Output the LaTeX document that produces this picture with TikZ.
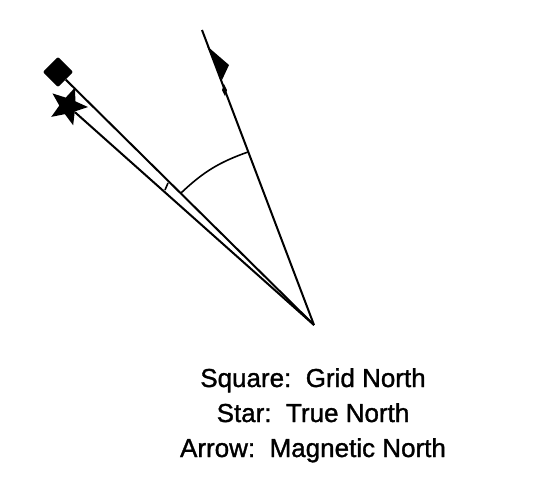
\documentclass[tikz,border=0pt]{standalone}
\usepackage{fontspec}
\setmainfont[BoldFont={Liberation Sans},BoldFeatures={FakeBold=1.2}]{Liberation Sans}
\usetikzlibrary{positioning, shapes.geometric}
\tikzset{
  ray/.style={draw, line width=1.5pt},
  thinray/.style={draw, line width=1.2pt},
  gridmark/.style={diamond, fill, inner sep=0pt, minimum width=23pt, minimum height=23pt, rounded corners=1.5pt},
  truemark/.style={star, star points=5, star point ratio=2.3, fill, inner sep=0pt, minimum size=30pt, shape border rotate=-21},
  caption/.style={font=\fontsize{19.5}{22}\selectfont\bfseries, inner sep=0pt}
}
\begin{document}
\begin{tikzpicture}[x=0.75pt,y=-0.75pt]
\useasboundingbox (0,0) rectangle (544,487);
% the three north marks and the point they all start from
\node[gridmark](grid) at (58,72){};
\node[truemark](true) at (68,106){};
\coordinate (apex) at (314,325);
\coordinate (magtop) at (202,30);
% the lines
\draw[ray] (grid) -- (apex);
\draw[ray] (true) -- (apex);
\draw[ray] (magtop) -- (apex);
% arrow on the magnetic line
\fill (207,46) -- (229,65) -- (222,80) -- cycle;
\fill (224,84) -- (227,90) -- (225,96) -- (222,90) -- cycle;
% angle arc and the small tick
\coordinate (arcleft) at (181,193);
\coordinate (arcright) at (248,152);
\draw[thinray] (arcleft) to[bend left=12] (arcright);
\coordinate (tickup) at (168,183);
\coordinate (tickdown) at (165,190);
\draw[thinray] (tickup) -- (tickdown);
% legend
\node[caption, anchor=base](square) at (313,387){Square:\ \ Grid North};
\node[caption, below=26.25pt of square.base, anchor=base](star) {Star:\ \ True North};
\node[caption, below=26.25pt of star.base, anchor=base](arrow) {Arrow:\ \ Magnetic North};
\end{tikzpicture}
\end{document}
